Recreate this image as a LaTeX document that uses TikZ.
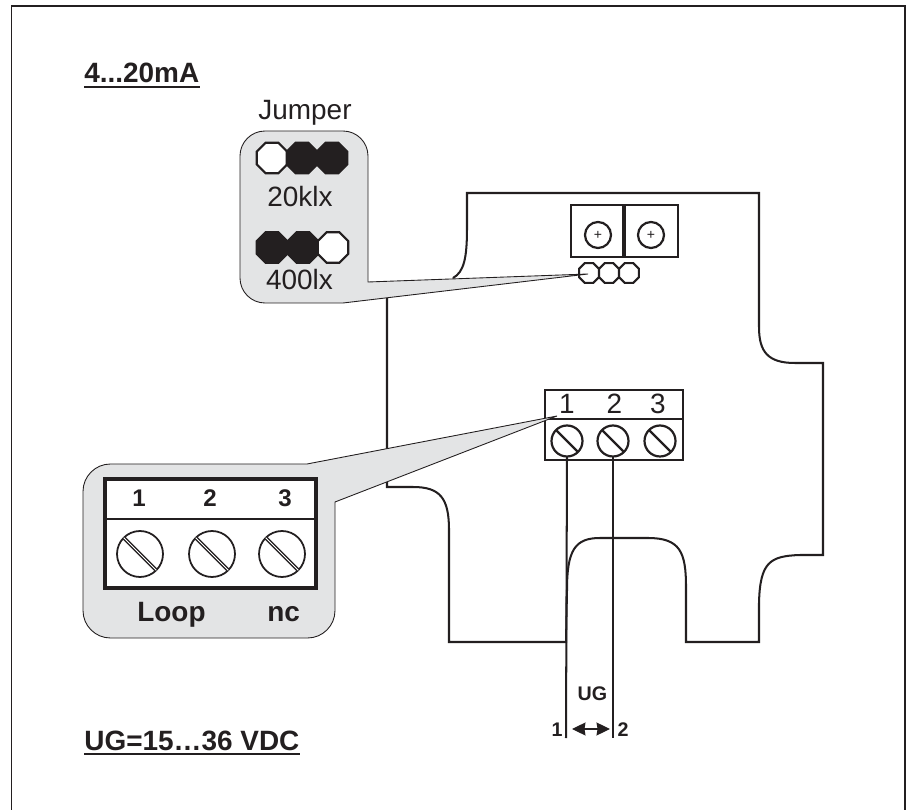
\documentclass[tikz,border=0pt]{standalone}
\usepackage{fontspec}
\setmainfont{Liberation Sans}
\usetikzlibrary{shapes.geometric,arrows.meta}
\definecolor{ink}{HTML}{231F20}
\definecolor{calloutgray}{HTML}{E3E4E5}
\tikzset{
  outline/.style={draw=ink,line width=1.15pt},
  callout/.style={draw=ink,line width=0.5pt,fill=calloutgray},
  terminal/.style={draw=ink,line width=1.25pt,fill=white},
  pin/.style={regular polygon,regular polygon sides=8,draw=ink,line width=1.2pt,minimum size=0.66cm,inner sep=0pt,outer sep=0pt},
  pinsmall/.style={pin,minimum size=0.43cm},
  screw/.style={circle,draw=ink,line width=1.25pt,minimum size=0.62cm,inner sep=0pt,outer sep=0pt},
  screwbig/.style={circle,draw=ink,line width=1pt,minimum size=0.92cm,inner sep=0pt,outer sep=0pt},
  screwtop/.style={circle,draw=ink,line width=1.25pt,minimum size=0.52cm,inner sep=0pt,outer sep=0pt,font=\fontsize{8}{8}\selectfont,text=ink},
  slotbig/.style={draw=ink,line width=0.75pt,double=white,double distance=0.6pt},
  tip/.style={{Stealth[length=0.27cm,width=0.26cm,inset=0.6pt]}-{Stealth[length=0.27cm,width=0.26cm,inset=0.6pt]}},
  txt/.style={inner sep=0pt,text=ink,font=\fontsize{15.9}{18}\selectfont},
  txtbold/.style={txt,font=\fontsize{15.9}{18}\selectfont\bfseries},
  txtmid/.style={txt,font=\fontsize{13.7}{16}\selectfont\bfseries},
  txtsmall/.style={txt,font=\fontsize{11.2}{14}\selectfont\bfseries},
}
\begin{document}
\begin{tikzpicture}[x=0.02cm,y=-0.02cm]
\useasboundingbox (0,0) rectangle (906,810);
% frame
\draw[draw=ink,line width=1pt] (11.5,810) -- (11.5,6) -- (905,6) -- (905,810);

% board
\draw[outline] (453,278) .. controls (464,272) and (467,258) .. (467,228) -- (467,193) -- (759,193) -- (759,327)
  .. controls (759,352) and (768,363) .. (795,363) -- (823,363) -- (823,555) -- (800,555)
  .. controls (770,556) and (760,562) .. (759,603) -- (759,642) -- (686,642) -- (686,587)
  .. controls (686,552) and (680,538) .. (648,538) -- (600,538)
  .. controls (575,538) and (567,550) .. (567,590) -- (566,642) -- (449,642) -- (449,530)
  .. controls (449,498) and (440,487) .. (413,487) -- (387,487) -- (387,297);

% power terminal
\draw[terminal] (571,205) rectangle (678,257);
\draw[draw=ink,line width=2pt] (624,205) -- (624,257);
\node[screwtop] (plusa) at (598,235) {+};
\node[screwtop] (plusb) at (651,235) {+};

% jumper on the board
\node[pinsmall,fill=white] (pina) at (589,273) {};
\node[pinsmall,fill=white] (pinb) at (609,273) {};
\node[pinsmall,fill=white] (pinc) at (629,273) {};

% signal terminal
\draw[terminal] (545,390) rectangle (683,460);
\draw[draw=ink,line width=1.25pt] (545,419) -- (683,419);
\node[screw] (screwa) at (567,441) {};
\node[screw] (screwb) at (613,441) {};
\node[screw] (screwc) at (660,441) {};
\draw[draw=ink,line width=1.25pt] (screwa.135) -- (screwa.-45);
\draw[draw=ink,line width=1.25pt] (screwb.135) -- (screwb.-45);
\draw[draw=ink,line width=1.25pt] (screwc.135) -- (screwc.-45);
\node[txt,anchor=base] (numa) at (567,414) {1};
\node[txt,anchor=base] (numb) at (614.5,414) {2};
\node[txt,anchor=base] (numc) at (658,414) {3};

% wires
\coordinate (wirea) at (566,738);
\coordinate (wireb) at (613,738);
\draw[outline] (screwa.south) -- (wirea);
\draw[outline] (screwb.south) -- (wireb);
\coordinate (arrowa) at (572,729);
\coordinate (arrowb) at (610,729);
\draw[draw=ink,line width=0.6pt,tip] (arrowa) -- (arrowb);
\node[txtsmall,anchor=base] (ug) at (592.5,700) {UG};
\node[txtsmall,anchor=base] (wirenuma) at (557,736) {1};
\node[txtsmall,anchor=base] (wirenumb) at (623,736) {2};

% jumper callout
\draw[callout] (588,274) -- (343,303) [rounded corners=0.5cm] -- (240,303) -- (240,131) -- (368,131) [sharp corners] -- (368,282) -- cycle;
\node[pin,fill=white] (upa) at (272,158) {};
\node[pin,fill=ink] (upb) at (302,158) {};
\node[pin,fill=ink] (upc) at (332,158) {};
\node[pin,fill=ink] (dna) at (272,247.5) {};
\node[pin,fill=ink] (dnb) at (303,247.5) {};
\node[pin,fill=white] (dnc) at (333,247.5) {};
\node[txt,anchor=base] (jumper) at (305,120) {Jumper};
\node[txt,anchor=base] (klx) at (300,207) {20klx};
\node[txt,anchor=base] (lx) at (299.5,290) {400lx};

% terminal callout
\draw[callout] (557,416) -- (307,464) [rounded corners=0.55cm] -- (83,464) -- (83,638) -- (335,638) [sharp corners] -- (335,502) -- cycle;
\draw[draw=ink,line width=1.9pt,fill=white] (105,479) rectangle (316,588);
\draw[draw=ink,line width=1.7pt] (105,519) -- (316,519);
\node[screwbig] (biga) at (140,554) {};
\node[screwbig] (bigb) at (212,554) {};
\node[screwbig] (bigc) at (282,554) {};
\draw[slotbig] (biga.135) -- (biga.-45);
\draw[slotbig] (bigb.135) -- (bigb.-45);
\draw[slotbig] (bigc.135) -- (bigc.-45);
\node[txtmid,anchor=base] (bignuma) at (139,507) {1};
\node[txtmid,anchor=base] (bignumb) at (210,507) {2};
\node[txtmid,anchor=base] (bignumc) at (285,507) {3};
\node[txtbold,anchor=base west] (loop) at (137,622) {Loop};
\node[txtbold,anchor=base west] (nc) at (267,622) {nc};

% headings
\node[txtbold,anchor=base west] (range) at (84,83) {4...20mA};
\draw[draw=ink,line width=1.3pt] ([yshift=-2.4pt]range.base west) -- ([yshift=-2.4pt]range.base east);
\node[txtbold,anchor=base west] (supply) at (84,750) {UG=15…36 VDC};
\draw[draw=ink,line width=1.3pt] ([yshift=-2.4pt]supply.base west) -- ([yshift=-2.4pt]supply.base east);
\end{tikzpicture}
\end{document}
